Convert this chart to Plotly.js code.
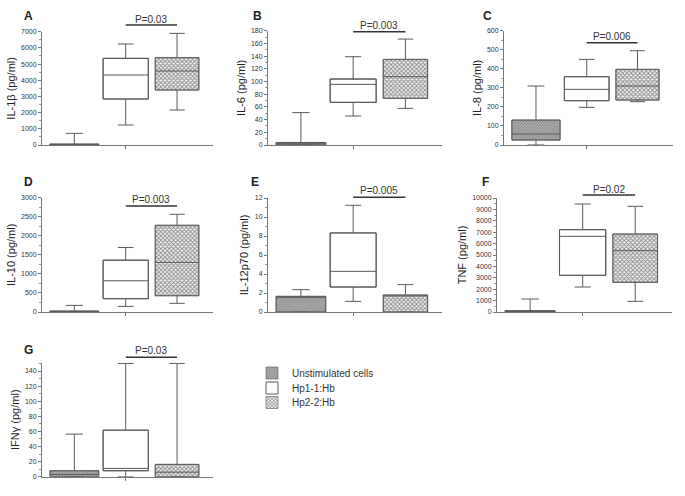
<!DOCTYPE html>
<html>
<head>
<meta charset="utf-8">
<script src="https://cdn.plot.ly/plotly-3.0.1.min.js"></script>
<style>html,body{margin:0;padding:0;background:#fff;}#chart{width:685px;height:496px;}</style>
</head>
<body>
<div id="chart"></div>
<script>
// ---- data ----
const groups = ['Unstimulated cells', 'Hp1-1:Hb', 'Hp2-2:Hb'];
const panelLetters = ['A', 'B', 'C', 'D', 'E', 'F', 'G'];
const yTitles = ['IL-1β (pg/ml)', 'IL-6 (pg/ml)', 'IL-8 (pg/ml)', 'IL-10 (pg/ml)', 'IL-12p70 (pg/ml)', 'TNF (pg/ml)', 'IFNγ (pg/ml)'];
const pValues = ['P=0.03', 'P=0.003', 'P=0.006', 'P=0.003', 'P=0.005', 'P=0.02', 'P=0.03'];
const yMax = [7000, 180, 600, 3000, 12, 10000, 151];
const yDtick = [1000, 20, 100, 500, 2, 1000, 20];
const lowerFence = [[0, 1235, 2162], [0, 45.6, 57.7], [0, 197.7, 227.4], [0, 148, 227], [0, 1.12, 0], [0, 2193, 936], [0, 0, 0]];
const q1Values = [[0, 2841, 3397], [0, 67.2, 73.5], [26, 232.6, 236], [0, 349, 427], [0, 2.63, 0], [0, 3216, 2602], [0, 7.9, 0]];
const medianValues = [[15, 4324, 4571], [2, 95.5, 107.6], [57.7, 292, 309.6], [10, 820, 1299], [1.6, 4.28, 1.7], [50, 6637, 5380], [3, 11, 6]];
const q3Values = [[60, 5353, 5394], [4, 103.9, 134.8], [131, 358.6, 397], [26, 1360, 2276], [1.65, 8.32, 1.79], [117, 7222, 6842], [7.9, 61.6, 16.3]];
const upperFence = [[720, 6240, 6897], [51, 139, 166.8], [309.6, 449.5, 495], [174, 1692, 2564], [2.35, 11.23, 2.88], [1140, 9474, 9269], [56.4, 150, 150]];

// ---- layout geometry ----
const W = 685, H = 496;
const xDom = [[42, 213], [268, 442], [504, 673], [42, 213], [268, 442], [497, 672], [42, 213]];
const yDom = [[31.7, 145], [30.7, 145], [30.7, 145], [197.7, 312], [198, 312], [198, 312], [362.7, 476.7]];
const letterPos = [[28, 16], [257, 16], [487, 16], [28, 182], [255, 182], [485, 182], [28, 350]];
const pLineY = [25, 31.7, 42.7, 206, 197.3, 195, 357.3];
const pTextY = [19.5, 25.5, 36.7, 199.7, 190.5, 189.7, 350.7];
const legendY = [373, 388, 402.5];
const boxWidths = [0.95, 0.88, 0.85];
const patterns = [
  {color: '#a3a3a3', pattern: {shape: '/', fgcolor: '#747474', bgcolor: '#b0b0b0', size: 2, solidity: 0.4}},
  {color: '#ffffff'},
  {color: '#bbbbbb', pattern: {shape: 'x', fgcolor: '#8a8a8a', bgcolor: '#f2f2f2', size: 3, solidity: 0.5}}
];
const FONT = 'Liberation Sans, Arial, sans-serif';
const lineCol = '#5a5a5a';

const traces = [];
const layout = {
  width: W, height: H,
  margin: {l: 0, r: 0, t: 0, b: 0},
  paper_bgcolor: '#fff', plot_bgcolor: '#fff',
  showlegend: true,
  barmode: 'overlay',
  font: {family: FONT, color: '#333'},
  annotations: [], shapes: []
};
const legendNames = ['legend', 'legend2', 'legend3'];
legendNames.forEach((ln, i) => {
  layout[ln] = {x: 252 / W, y: 1 - legendY[i] / H, xanchor: 'left', yanchor: 'middle',
    font: {family: FONT, size: 10, color: '#333'}, bgcolor: 'rgba(0,0,0,0)', itemwidth: 30};
});

for (let p = 0; p < 7; p++) {
  const ax = p === 0 ? '' : String(p + 1);
  const xa = 'x' + ax, ya = 'y' + ax;
  for (let g = 0; g < 3; g++) {
    // hatched fill of the box (IQR)
    traces.push({
      type: 'bar', x: [g], base: [q1Values[p][g]], y: [q3Values[p][g] - q1Values[p][g]],
      width: boxWidths[g], xaxis: xa, yaxis: ya, name: groups[g],
      legend: legendNames[g], showlegend: p === 0,
      marker: Object.assign({line: {color: lineCol, width: g === 1 ? 1 : 0.6}}, JSON.parse(JSON.stringify(patterns[g]))),
      hoverinfo: 'skip'
    });
    traces.push({
      type: 'box', x: [g], q1: [q1Values[p][g]], median: [medianValues[p][g]], q3: [q3Values[p][g]],
      lowerfence: [lowerFence[p][g]], upperfence: [upperFence[p][g]],
      width: boxWidths[g], whiskerwidth: 0.35, boxpoints: false,
      xaxis: xa, yaxis: ya, name: groups[g], showlegend: false,
      fillcolor: 'rgba(0,0,0,0)', line: {color: lineCol, width: 1}
    });
  }
  const xd = xDom[p], yd = yDom[p];
  layout['xaxis' + ax] = {
    domain: [xd[0] / W, xd[1] / W], anchor: ya, range: [-0.63, 2.7],
    showgrid: false, zeroline: false, showline: true, linecolor: '#777', linewidth: 1,
    tickvals: [1], ticktext: [''], ticks: 'outside', ticklen: 3, tickcolor: '#777', fixedrange: true
  };
  layout['yaxis' + ax] = {
    domain: [1 - yd[1] / H, 1 - yd[0] / H], anchor: xa, range: [0, yMax[p]],
    showgrid: false, zeroline: false, showline: true, linecolor: '#777', linewidth: 1,
    dtick: yDtick[p], tick0: 0, tickformat: 'd', ticks: 'outside', ticklen: 3, tickcolor: '#777',
    tickfont: {family: FONT, size: 7, color: '#333'},
    minor: {dtick: yDtick[p] / 2, ticks: 'outside', ticklen: 2, tickcolor: '#999', showgrid: false},
    title: {text: yTitles[p], font: {family: FONT, size: 11, color: '#222'}, standoff: 3},
    fixedrange: true
  };
  layout.annotations.push({
    text: '<b>' + panelLetters[p] + '</b>', xref: 'paper', yref: 'paper',
    x: letterPos[p][0] / W, y: 1 - letterPos[p][1] / H, xanchor: 'center', yanchor: 'middle',
    showarrow: false, font: {family: FONT, size: 12, color: '#222'}
  });
  layout.annotations.push({
    text: pValues[p], xref: xa, yref: 'paper', x: 1.5, y: 1 - pTextY[p] / H,
    xanchor: 'center', yanchor: 'middle', showarrow: false,
    font: {family: FONT, size: 10, color: '#333'}
  });
  layout.shapes.push({
    type: 'line', xref: xa, yref: 'paper', x0: 1.0, x1: 2.0,
    y0: 1 - pLineY[p] / H, y1: 1 - pLineY[p] / H, line: {color: '#333', width: 1.5}
  });
}

Plotly.newPlot('chart', traces, layout, {displayModeBar: false, staticPlot: true});
</script>
</body>
</html>
